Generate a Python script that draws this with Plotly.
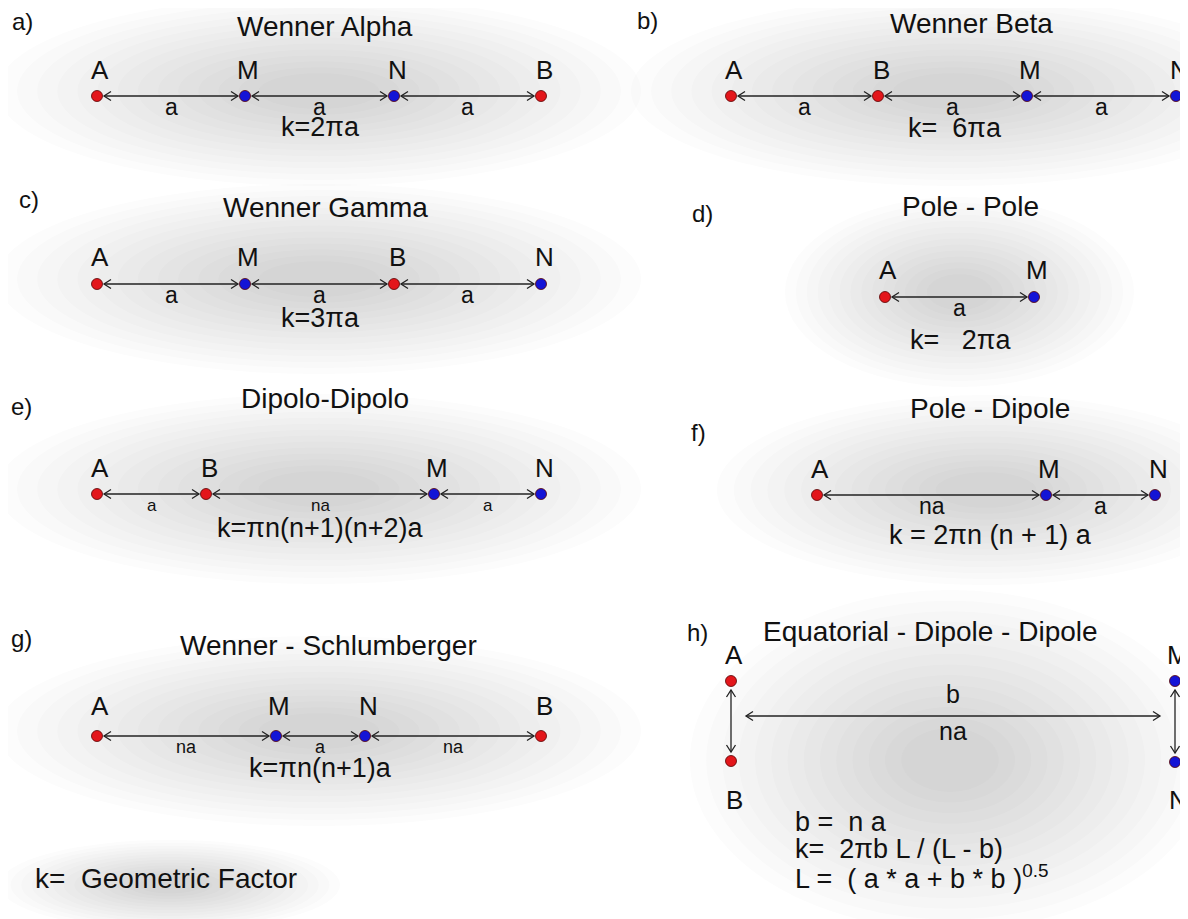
import plotly.graph_objects as go

FONT = "Liberation Sans, Arial, sans-serif"
RED = "#e3161b"
BLUE = "#1414d6"

# ---- panel data -------------------------------------------------------
panel_tags = ["a)", "b)", "c)", "d)", "e)", "f)", "g)", "h)"]
tag_x = [22, 647, 29, 702, 21, 698, 21, 697]
tag_y = [21, 20, 199, 213, 406, 432, 638, 632]

titles = ["Wenner Alpha", "Wenner Beta", "Wenner Gamma", "Pole - Pole",
          "Dipolo-Dipolo", "Pole - Dipole", "Wenner - Schlumberger"]
title_x = [325, 971, 325, 970, 325, 990, 328]
title_y = [26, 23, 207, 206, 398, 408, 645]

# electrodes on a line: names, x positions, row y
row_names = [["A", "M", "N", "B"], ["A", "B", "M", "N"], ["A", "M", "B", "N"],
             ["A", "M"], ["A", "B", "M", "N"], ["A", "M", "N"],
             ["A", "M", "N", "B"]]
row_x = [[97, 245, 394, 541], [731, 878, 1027, 1176], [97, 245, 394, 541],
         [885, 1034], [97, 206, 434, 541], [817, 1046, 1155],
         [97, 276, 365, 541]]
row_y = [96, 96, 284, 297, 494, 495, 736]
name_y = [70, 70, 257, 270, 468, 469, 706]

# spacing labels between successive electrodes
gap_text = [["a", "a", "a"], ["a", "a", "a"], ["a", "a", "a"], ["a"],
            ["a", "na", "a"], ["na", "a"], ["na", "a", "na"]]
gap_size = [23, 23, 23, 23, 17, 23, 18]

k_text = ["k=2πa", "k=  6πa", "k=3πa", "k=   2πa", "k=πn(n+1)(n+2)a",
          "k = 2πn (n + 1) a", "k=πn(n+1)a"]
k_x = [320, 955, 320, 960, 320, 990, 320]
k_y = [127, 128, 318, 340, 528, 535, 768]

# equatorial dipole-dipole (h)
eq_names = ["A", "B", "M", "N"]
eq_x = [731, 731, 1175, 1175]
eq_y = [681, 761, 681, 762]
eq_label_y = [655, 800, 655, 800]
eq_title = "Equatorial - Dipole - Dipole"
eq_title_xy = (930, 631)
eq_b_y = 716
eq_lines = ["b =  n a", "k=  2πb L / (L - b)", "L =  ( a * a + b * b )<sup>0.5</sup>"]
eq_lines_y = [822, 849, 877]
eq_lines_x = 793

legend_text = "k=  Geometric Factor"
legend_xy = (33, 878)

TXT = "#111"
fig = go.Figure()
ann = []
shapes = []

# ---- soft shadows ------------------------------------------------------
def shadow(cx, cy, rx, ry, n=14, op=0.015):
    for i in range(n):
        f = 1 - i / (n + 2)
        shapes.append(dict(type="circle", xref="x", yref="y", layer="below",
                           x0=cx - rx * f, x1=cx + rx * f, y0=cy - ry * f, y1=cy + ry * f,
                           line=dict(width=0), fillcolor="rgba(70,70,70,%.3f)" % op))

for xs, y in zip(row_x, row_y):
    shadow((min(xs) + max(xs)) / 2, y - 5, (max(xs) - min(xs)) / 2 + 100, 95)
shadow(950, 760, 260, 170)
shadow(170, 885, 170, 45)

# ---- arrows (line + open chevrons) -----------------------------------
ax_x, ax_y = [], []
def h_arrow(x1, x2, y, head=7, hh=4.5):
    ax_x.extend([x1, x2, None,
                 x1 + head, x1, x1 + head, None,
                 x2 - head, x2, x2 - head, None])
    ax_y.extend([y, y, None, y - hh, y, y + hh, None, y - hh, y, y + hh, None])

def v_arrow(x, y1, y2, head=7, hh=4.5):
    ax_x.extend([x, x, None, x - hh, x, x + hh, None, x - hh, x, x + hh, None])
    ax_y.extend([y1, y2, None, y1 + head, y1, y1 + head, None,
                 y2 - head, y2, y2 - head, None])

for i in range(len(row_names)):
    xs = row_x[i]
    y = row_y[i]
    for j in range(len(xs) - 1):
        h_arrow(xs[j] + 7, xs[j + 1] - 7, y)
        ann.append(dict(x=(xs[j] + xs[j + 1]) / 2, y=y + 11, text=gap_text[i][j],
                        showarrow=False, font=dict(size=gap_size[i], color=TXT),
                        xanchor="center", yanchor="middle"))
    for n, x in zip(row_names[i], xs):
        ann.append(dict(x=x + 3, y=name_y[i], text=n, showarrow=False,
                        font=dict(size=26, color=TXT), xanchor="center", yanchor="middle"))
    ann.append(dict(x=k_x[i], y=k_y[i], text=k_text[i],
                    showarrow=False, font=dict(size=27, color=TXT),
                    xanchor="center", yanchor="middle"))
    ann.append(dict(x=title_x[i], y=title_y[i], text=titles[i], showarrow=False,
                    font=dict(size=28, color=TXT), xanchor="center", yanchor="middle"))

# h) arrows
v_arrow(eq_x[0], eq_y[0] + 9, eq_y[1] - 9)
v_arrow(eq_x[2], eq_y[2] + 9, eq_y[3] - 9)
h_arrow(eq_x[0] + 15, eq_x[2] - 15, eq_b_y)
ann.append(dict(x=(eq_x[0] + eq_x[2]) / 2, y=eq_b_y - 22, text="b", showarrow=False,
                font=dict(size=25, color=TXT)))
ann.append(dict(x=(eq_x[0] + eq_x[2]) / 2, y=eq_b_y + 15, text="na", showarrow=False,
                font=dict(size=25, color=TXT)))
for n, x, y in zip(eq_names, eq_x, eq_label_y):
    ann.append(dict(x=x + 3, y=y, text=n, showarrow=False,
                    font=dict(size=26, color=TXT), xanchor="center", yanchor="middle"))
ann.append(dict(x=eq_title_xy[0], y=eq_title_xy[1], text=eq_title, showarrow=False,
                font=dict(size=28, color=TXT)))
for t, y in zip(eq_lines, eq_lines_y):
    ann.append(dict(x=eq_lines_x, y=y, text=t, showarrow=False, xanchor="left",
                    yanchor="middle", font=dict(size=27, color=TXT)))
ann.append(dict(x=legend_xy[0], y=legend_xy[1], text=legend_text, showarrow=False,
                xanchor="left", yanchor="middle", font=dict(size=28, color=TXT)))

for t, x, y in zip(panel_tags, tag_x, tag_y):
    ann.append(dict(x=x, y=y, text=t, showarrow=False, xanchor="center",
                    yanchor="middle", font=dict(size=24, color=TXT)))

fig.add_trace(go.Scatter(x=ax_x, y=ax_y, mode="lines",
                         line=dict(color="#222", width=1.3), hoverinfo="skip"))

# electrodes
ex, ey, ec = [], [], []
for i in range(len(row_names)):
    for n, x in zip(row_names[i], row_x[i]):
        ex.append(x); ey.append(row_y[i]); ec.append(RED if n in "AB" else BLUE)
for n, x, y in zip(eq_names, eq_x, eq_y):
    ex.append(x); ey.append(y); ec.append(RED if n in "AB" else BLUE)
fig.add_trace(go.Scatter(x=ex, y=ey, mode="markers",
                         marker=dict(size=11, color=ec, line=dict(color="#500", width=0.8)),
                         hoverinfo="skip"))

# page body has an 8px margin: shift so data coords equal screen pixels
fig.update_layout(
    width=1180, height=911, margin=dict(l=0, r=0, t=0, b=0),
    paper_bgcolor="white", plot_bgcolor="white", showlegend=False,
    font=dict(family=FONT),
    xaxis=dict(range=[8, 1188], visible=False, fixedrange=True),
    yaxis=dict(range=[919, 8], visible=False, fixedrange=True),
    annotations=ann, shapes=shapes,
)
fig.write_html("out.html")
